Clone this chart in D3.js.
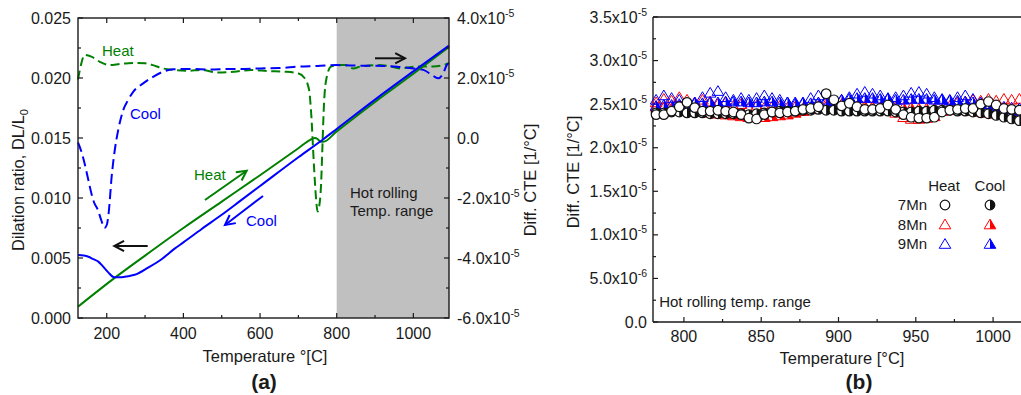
<!DOCTYPE html>
<html><head><meta charset="utf-8">
<script src="https://cdn.jsdelivr.net/npm/d3@7/dist/d3.min.js"></script>
<style>body{margin:0;background:#fff}text{font-family:"Liberation Sans",Arial,sans-serif;fill:#1a1a1a}</style>
</head><body><svg id="c" width="1021" height="395"></svg>
<script>
// ---------- Panel (a) data ----------
const heatDilTemp = [125,219,300,400,500,600,700,730,743,750,757,765,800,900,1000,1093];
const heatDil     = [0.00094,0.0033,0.0052,0.0075,0.0097,0.0119,0.01415,0.01483,0.0150,0.01492,0.0147,0.01468,0.01555,0.0180,0.02035,0.02258];
const coolDilTemp = [125,140,152,165,178,190,204,219,239,255,273,308,343,378,400,447,500,550,600,700,765,800,900,1000,1093];
const coolDil     = [0.00525,0.0052,0.0051,0.0049,0.0047,0.0043,0.0038,0.0034,0.0034,0.00348,0.0036,0.0042,0.0049,0.0058,0.0063,0.0074,0.0086,0.0098,0.0110,0.0134,0.0149,0.01575,0.0182,0.02055,0.0227];
// differential CTE, units of 1e-5 /°C
const heatCteTemp = [125,133,142,160,182,208,235,256,280,300,320,343,373,412,447,490,533,577,620,663,698,716,728,733,741,746,750,754,759,763,766,772,785,802,822,843,861,904,935,965,1009,1052,1075,1093];
const heatCte     = [1.95,2.45,2.77,2.71,2.54,2.43,2.47,2.49,2.5,2.49,2.43,2.33,2.27,2.24,2.27,2.18,2.21,2.27,2.23,2.21,2.16,2.0,1.6,0.9,-1.0,-2.0,-2.45,-2.3,-1.6,-0.2,0.9,1.9,2.38,2.43,2.43,2.32,2.38,2.43,2.4,2.32,2.38,2.38,2.42,2.49];
const coolCteTemp = [125,135,145,152,160,167,177,186,194,200,205,208,212,216,221,230,243,256,269,295,321,347,373,420,470,520,560,600,650,700,750,800,860,922,960,1000,1026,1052,1065,1078,1087,1093];
const coolCte     = [-0.15,-0.5,-1.0,-1.4,-1.85,-2.15,-2.4,-2.75,-3.0,-2.9,-2.5,-2.07,-1.4,-0.9,-0.4,0.27,0.93,1.27,1.54,1.82,2.04,2.21,2.29,2.3,2.28,2.3,2.3,2.32,2.33,2.38,2.4,2.43,2.41,2.4,2.37,2.32,2.27,2.07,1.99,2.16,2.43,2.5];
const xTicksA = [200,400,600,800,1000];
const yTicksA = [0,0.005,0.010,0.015,0.020,0.025];
const y2TicksA = [-6,-4,-2,0,2,4];
const hotRange = [800,1093];

// ---------- Panel (b) data (units 1e-5 /°C) ----------
const tB = [782,787,792,797,802,807,812,817,822,827,832,837,842,847,852,857,862,867,872,877,882,887,892,897,902,907,912,917,922,927,932,937,942,947,952,957,962,967,972,977,982,987,992,997,1002,1007,1012,1017];
const mn7Heat = [2.38,2.38,2.42,2.47,2.52,2.46,2.42,2.42,2.43,2.42,2.41,2.38,2.34,2.33,2.38,2.41,2.40,2.41,2.42,2.44,2.45,2.47,2.62,2.55,2.48,2.51,2.47,2.44,2.44,2.45,2.49,2.44,2.38,2.35,2.34,2.34,2.35,2.41,2.43,2.44,2.45,2.45,2.50,2.53,2.49,2.45,2.44,2.43];
const mn7Cool = [2.40,2.40,2.41,2.41,2.40,2.40,2.40,2.39,2.39,2.39,2.39,2.39,2.38,2.39,2.40,2.41,2.42,2.42,2.42,2.43,2.43,2.44,2.43,2.43,2.42,2.42,2.42,2.42,2.42,2.42,2.42,2.41,2.41,2.41,2.42,2.42,2.43,2.43,2.43,2.42,2.42,2.41,2.40,2.39,2.37,2.35,2.33,2.31];
const mn8Heat = [2.52,2.56,2.54,2.58,2.55,2.52,2.55,2.53,2.50,2.52,2.48,2.50,2.46,2.48,2.46,2.47,2.48,2.46,2.47,2.45,2.46,2.48,2.50,2.53,2.50,2.48,2.47,2.46,2.47,2.46,2.45,2.40,2.35,2.33,2.33,2.34,2.36,2.42,2.48,2.52,2.53,2.55,2.54,2.56,2.54,2.56,2.55,2.56];
const mn8Cool = [2.47,2.46,2.45,2.44,2.43,2.42,2.41,2.40,2.39,2.38,2.37,2.36,2.35,2.35,2.35,2.36,2.37,2.38,2.40,2.42,2.44,2.46,2.47,2.47,2.46,2.46,2.47,2.48,2.47,2.46,2.46,2.47,2.46,2.46,2.45,2.45,2.45,2.44,2.44,2.43,2.43,2.42,2.41,2.40,2.39,2.38,2.36,2.34];
const mn9Heat = [2.55,2.60,2.57,2.55,2.50,2.52,2.58,2.63,2.65,2.58,2.55,2.57,2.55,2.57,2.60,2.57,2.55,2.52,2.50,2.52,2.57,2.60,2.55,2.52,2.55,2.58,2.62,2.64,2.62,2.60,2.57,2.58,2.60,2.63,2.64,2.62,2.58,2.56,2.55,2.58,2.60,2.56,2.52,2.50,2.48,2.47,2.46,2.45];
const mn9Cool = [2.48,2.49,2.49,2.50,2.50,2.51,2.51,2.52,2.52,2.53,2.53,2.53,2.52,2.52,2.53,2.53,2.52,2.52,2.52,2.51,2.51,2.52,2.53,2.54,2.55,2.56,2.57,2.57,2.57,2.56,2.56,2.55,2.55,2.56,2.56,2.56,2.55,2.55,2.54,2.54,2.53,2.52,2.50,2.48,2.46,2.44,2.42,2.40];
const xTicksB = [800,850,900,950,1000];
const yTicksB = [0,0.5,1.0,1.5,2.0,2.5,3.0,3.5];
const legendRows = ["7Mn","8Mn","9Mn"];

// ---------- Setup ----------
const svg = d3.select("#c");
const GREEN = "#008000", BLUE = "#0000ff", RED = "#ff0000";
const xA = d3.scaleLinear().domain([125,1093]).range([78,449]);
const yA = d3.scaleLinear().domain([0,0.025]).range([318,18]);
const yA2 = d3.scaleLinear().domain([-6,4]).range([318,18]);
const xB = d3.scaleLinear().domain([780,1020]).range([653,1024]);
const yB = d3.scaleLinear().domain([0,3.5]).range([322,17]);
const TF = 16;

function sci(sel, mant, exp){
  sel.text(mant+"x10");
  sel.append("tspan").attr("dy",-7).attr("font-size",10.5).text(exp);
}

// ---------- Panel (a) ----------
const gA = svg.append("g");
gA.append("rect").attr("x",xA(hotRange[0])).attr("y",18).attr("width",xA(hotRange[1])-xA(hotRange[0])).attr("height",300).attr("fill","#c0c0c0");

const zipA = (t,v)=>t.map((d,i)=>[d,v[i]]);
const lineDil = d3.line().x(d=>xA(d[0])).y(d=>yA(d[1])).curve(d3.curveMonotoneX);
const lineCte = d3.line().x(d=>xA(d[0])).y(d=>yA2(d[1])).curve(d3.curveMonotoneX);
gA.append("path").attr("d",lineCte(zipA(heatCteTemp,heatCte))).attr("fill","none").attr("stroke",GREEN).attr("stroke-width",2).attr("stroke-dasharray","9,4.5");
gA.append("path").attr("d",lineCte(zipA(coolCteTemp,coolCte))).attr("fill","none").attr("stroke",BLUE).attr("stroke-width",2).attr("stroke-dasharray","10,5");
gA.append("path").attr("d",lineDil(zipA(heatDilTemp,heatDil))).attr("fill","none").attr("stroke",GREEN).attr("stroke-width",2);
gA.append("path").attr("d",lineDil(zipA(coolDilTemp,coolDil))).attr("fill","none").attr("stroke",BLUE).attr("stroke-width",2);

// frame
gA.append("rect").attr("x",78).attr("y",18).attr("width",371).attr("height",300).attr("fill","none").attr("stroke","#1a1a1a").attr("stroke-width",1.4);
// ticks
const tk = gA.append("g").attr("stroke","#1a1a1a").attr("stroke-width",1.2);
d3.range(0,0.02501,0.0025).forEach((v,i)=>{const L=i%2?3:5; tk.append("line").attr("x1",78).attr("x2",78+L).attr("y1",yA(v)).attr("y2",yA(v));});
d3.range(-6,4.01,1).forEach((v,i)=>{const L=i%2?3:5; tk.append("line").attr("x1",449).attr("x2",449-L).attr("y1",yA2(v)).attr("y2",yA2(v));});
d3.range(200,1093,100).forEach((v,i)=>{const L=i%2?3:5; tk.append("line").attr("x1",xA(v)).attr("x2",xA(v)).attr("y1",318).attr("y2",318-L); tk.append("line").attr("x1",xA(v)).attr("x2",xA(v)).attr("y1",18).attr("y2",18+L);});
// tick labels
yTicksA.forEach(v=>gA.append("text").attr("x",71).attr("y",yA(v)+5.5).attr("text-anchor","end").attr("font-size",TF).text(d3.format(".3f")(v)));
xTicksA.forEach(v=>gA.append("text").attr("x",xA(v)).attr("y",338.5).attr("text-anchor","middle").attr("font-size",TF).text(v));
y2TicksA.forEach(v=>{const t=gA.append("text").attr("x",457).attr("y",yA2(v)+5.5).attr("font-size",TF); if(v===0) t.text("0.0"); else sci(t,(v).toFixed(1),"-5");});
// titles
const tl = gA.append("text").attr("transform","translate(24,180) rotate(-90)").attr("text-anchor","middle").attr("font-size",16.5).text("Dilation ratio, DL/L");
tl.append("tspan").attr("font-size",11).attr("dy",4).text("0");
gA.append("text").attr("transform","translate(536,180) rotate(-90)").attr("text-anchor","middle").attr("font-size",16.5).text("Diff. CTE [1/°C]");
gA.append("text").attr("x",265).attr("y",362).attr("text-anchor","middle").attr("font-size",16.5).text("Temperature °[C]");
gA.append("text").attr("x",264).attr("y",389).attr("text-anchor","middle").attr("font-size",21).attr("font-weight","bold").text("(a)");

// annotations (data coords: temperature, dilation)
function arrow(g,x1,y1,x2,y2,color,L){
  g.append("line").attr("x1",x1).attr("y1",y1).attr("x2",x2).attr("y2",y2).attr("stroke",color).attr("stroke-width",2);
  const a=Math.atan2(y2-y1,x2-x1), s=0.48;
  g.append("polyline").attr("points",[[x2-L*Math.cos(a-s),y2-L*Math.sin(a-s)],[x2,y2],[x2-L*Math.cos(a+s),y2-L*Math.sin(a+s)]].map(p=>p.join(",")).join(" "))
   .attr("fill","none").attr("stroke",color).attr("stroke-width",2);
}
const annText = [["Heat",187.6,0.02183,GREEN],["Cool",260.7,0.01658,BLUE],["Heat",427.6,0.0115,GREEN],["Cool",563.3,0.00767,BLUE],["Hot rolling",834.6,0.0100,"#1a1a1a"],["Temp. range",834.6,0.0085,"#1a1a1a"]];
annText.forEach(a=>gA.append("text").attr("x",xA(a[1])).attr("y",yA(a[2])).attr("font-size",15).style("fill",a[3]).text(a[0]));
const annArrows = [[456.3,0.00983,565.1,0.012275,GREEN],[607.7,0.010167,508.5,0.00775,BLUE],[306.8,0.006,219.7,0.006,"#111"],[899.9,0.021642,978.2,0.021642,"#111"]];
annArrows.forEach(a=>arrow(gA,xA(a[0]),yA(a[1]),xA(a[2]),yA(a[3]),a[4],11));

// ---------- Panel (b) ----------
const gB = svg.append("g");
gB.append("line").attr("x1",653).attr("x2",1021).attr("y1",17).attr("y2",17).attr("stroke","#1a1a1a").attr("stroke-width",1.4);
gB.append("line").attr("x1",653).attr("x2",1021).attr("y1",322).attr("y2",322).attr("stroke","#1a1a1a").attr("stroke-width",1.4);
gB.append("line").attr("x1",653).attr("x2",653).attr("y1",17).attr("y2",322).attr("stroke","#1a1a1a").attr("stroke-width",1.4);
const tkB = gB.append("g").attr("stroke","#1a1a1a").attr("stroke-width",1.2);
d3.range(0,3.501,0.25).forEach((v,i)=>{const L=i%2?3:5; tkB.append("line").attr("x1",653).attr("x2",653+L).attr("y1",yB(v)).attr("y2",yB(v));});
d3.range(800,1021,25).forEach((v,i)=>{const L=i%2?3:5; tkB.append("line").attr("x1",xB(v)).attr("x2",xB(v)).attr("y1",322).attr("y2",322-L);});
yTicksB.forEach(v=>{const t=gB.append("text").attr("x",647).attr("y",yB(v)+5.5).attr("text-anchor","end").attr("font-size",TF);
  if(v===0) t.text("0.0"); else if(v<1) sci(t,(v*10).toFixed(1),"-6"); else sci(t,v.toFixed(1),"-5");});
xTicksB.forEach(v=>gB.append("text").attr("x",xB(v)).attr("y",342).attr("text-anchor","middle").attr("font-size",TF).text(v));
gB.append("text").attr("transform","translate(579,172) rotate(-90)").attr("text-anchor","middle").attr("font-size",16.5).text("Diff. CTE [1/°C]");
gB.append("text").attr("x",842).attr("y",364).attr("text-anchor","middle").attr("font-size",16.5).text("Temperature [°C]");
gB.append("text").attr("x",859).attr("y",389).attr("text-anchor","middle").attr("font-size",21).attr("font-weight","bold").text("(b)");
gB.append("text").attr("x",xB(784)).attr("y",yB(0.17)).attr("font-size",15).text("Hot rolling temp. range");

const triFull = "M0,-5.4L5.8,4.3L-5.8,4.3Z", triHalf = "M0,-5.4L5.8,4.3L0,4.3Z";
const R = 4.8, halfC = `M0,${-R}A${R},${R} 0 0 1 0,${R}Z`;
function openTri(g,x,y,c){g.append("path").attr("transform",`translate(${x},${y})`).attr("d",triFull).attr("fill","none").attr("stroke",c).attr("stroke-width",1);}
function halfTri(g,x,y,c){const p=g.append("g").attr("transform",`translate(${x},${y})`);
  p.append("path").attr("d",triHalf).attr("fill",c); p.append("path").attr("d",triFull).attr("fill","none").attr("stroke",c).attr("stroke-width",1);}
function openCirc(g,x,y){g.append("circle").attr("cx",x).attr("cy",y).attr("r",R).attr("fill","#fff").attr("stroke","#111").attr("stroke-width",1.2);}
function halfCirc(g,x,y){const p=g.append("g").attr("transform",`translate(${x},${y})`);
  p.append("circle").attr("r",R).attr("fill","#fff").attr("stroke","#111").attr("stroke-width",1.2); p.append("path").attr("d",halfC).attr("fill","#111");}

const mk = gB.append("g");
tB.forEach((t,i)=>openTri(mk,xB(t),yB(mn8Heat[i]),RED));
tB.forEach((t,i)=>halfTri(mk,xB(t),yB(mn8Cool[i]),RED));
tB.forEach((t,i)=>openTri(mk,xB(t),yB(mn9Heat[i]),BLUE));
tB.forEach((t,i)=>halfTri(mk,xB(t),yB(mn9Cool[i]),BLUE));
tB.forEach((t,i)=>halfCirc(mk,xB(t),yB(mn7Cool[i])));
tB.forEach((t,i)=>openCirc(mk,xB(t),yB(mn7Heat[i])));

// legend
const lg = gB.append("g");
lg.append("text").attr("x",944).attr("y",191).attr("text-anchor","middle").attr("font-size",15).text("Heat");
lg.append("text").attr("x",990).attr("y",191).attr("text-anchor","middle").attr("font-size",15).text("Cool");
const rowY=[205,224.5,244];
legendRows.forEach((r,i)=>lg.append("text").attr("x",927).attr("y",rowY[i]+5).attr("text-anchor","end").attr("font-size",15).text(r));
openCirc(lg,945,rowY[0]); halfCirc(lg,990,rowY[0]);
openTri(lg,945,rowY[1],RED); halfTri(lg,990,rowY[1],RED);
openTri(lg,945,rowY[2],BLUE); halfTri(lg,990,rowY[2],BLUE);
</script></body></html>
